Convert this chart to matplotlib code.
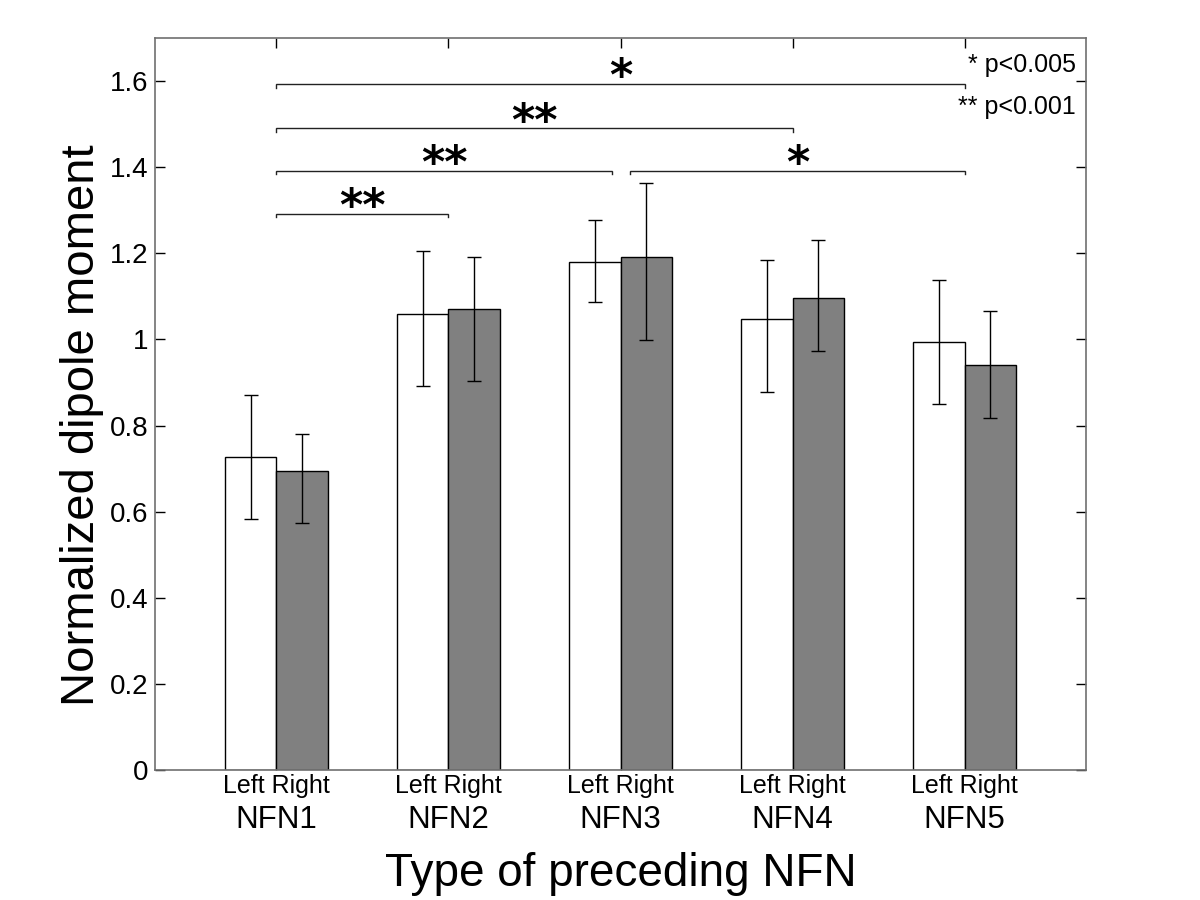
import matplotlib
matplotlib.use("Agg")
import matplotlib.pyplot as plt
import numpy as np
from matplotlib.transforms import blended_transform_factory

plt.rcParams['font.family'] = ['Liberation Sans', 'DejaVu Sans']

# ---- data ----
groups = ["NFN1", "NFN2", "NFN3", "NFN4", "NFN5"]
sub_labels = "Left Right"
left_mean = [0.728, 1.058, 1.180, 1.047, 0.993]
left_hi = [0.871, 1.206, 1.278, 1.185, 1.138]
left_lo = [0.583, 0.892, 1.087, 0.877, 0.851]
right_mean = [0.694, 1.071, 1.192, 1.096, 0.940]
right_hi = [0.780, 1.191, 1.364, 1.231, 1.067]
right_lo = [0.574, 0.904, 0.999, 0.972, 0.818]
yticks = [0, 0.2, 0.4, 0.6, 0.8, 1.0, 1.2, 1.4, 1.6]
ytick_labels = ["0", "0.2", "0.4", "0.6", "0.8", "1", "1.2", "1.4", "1.6"]
# significance brackets: (x start, x end, y level, label)
brackets = [
    (1.0, 5.0, 1.593, "*"),
    (1.0, 4.0, 1.490, "**"),
    (1.0, 2.953, 1.392, "**"),
    (1.0, 2.0, 1.292, "**"),
    (3.058, 5.0, 1.392, "*"),
]
legend_lines = ["* p<0.005", "** p<0.001"]

# ---- figure ----
fig = plt.figure(figsize=(12, 9), dpi=100)
ax = fig.add_axes([155/1200, 1-770/900, (1086-155)/1200, (770-38)/900])

x = np.arange(1, len(groups) + 1)
w = 0.3
lm = np.array(left_mean); rm = np.array(right_mean)
lerr = [lm - np.array(left_lo), np.array(left_hi) - lm]
rerr = [rm - np.array(right_lo), np.array(right_hi) - rm]

ekw = dict(ecolor='black', elinewidth=1.0, capsize=4.8, capthick=1.0)
ax.bar(x - w/2, lm, w, color='white', edgecolor='black', linewidth=1.0,
       yerr=lerr, error_kw=ekw, zorder=2)
ax.bar(x + w/2, rm, w, color='#808080', edgecolor='black', linewidth=1.0,
       yerr=rerr, error_kw=ekw, zorder=2)

ax.set_xlim(0.295, 5.705)
ax.set_ylim(0, 1.7)
ax.set_yticks(yticks)
ax.set_yticklabels(ytick_labels, fontsize=20)
ax.set_xticks(x)
ax.set_xticklabels(groups, fontsize=22.5)
ax.tick_params(axis='both', direction='in', length=7, width=1.0, color='black',
               top=True, right=True)
ax.tick_params(axis='x', pad=25)
ax.tick_params(axis='y', pad=5)
for s in ax.spines.values():
    s.set_color('#707070')
    s.set_linewidth(1.2)

trans = blended_transform_factory(ax.transData, ax.transAxes)
for xi in x:
    ax.text(xi, -23/732, sub_labels, transform=trans, ha='center',
            va='baseline', fontsize=18)

ax.set_ylabel("Normalized dipole moment", fontsize=34)
ax.yaxis.set_label_coords(-0.0548, 0.471)
ax.set_xlabel("Type of preceding NFN", fontsize=33)
ax.xaxis.set_label_coords(0.5, -82/732)
ax.xaxis.label.set_va('top')

# brackets
tk = 0.008
for x1, x2, yb, lab in brackets:
    ax.plot([x1, x1, x2, x2], [yb - tk, yb, yb, yb - tk], color='#222222',
            linewidth=1.0, zorder=3, solid_joinstyle='miter')
    ax.annotate(lab, xy=((x1 + x2) / 2, yb), xytext=(0, -4.5),
                textcoords='offset points', ha='center', va='baseline',
                fontsize=32, fontweight='bold', family='DejaVu Sans')

# legend text
ax.text(5.645, 1.621, legend_lines[0], ha='right', va='baseline', fontsize=18)
ax.text(5.645, 1.524, legend_lines[1], ha='right', va='baseline', fontsize=18)

fig.savefig("out.png", dpi=100)
